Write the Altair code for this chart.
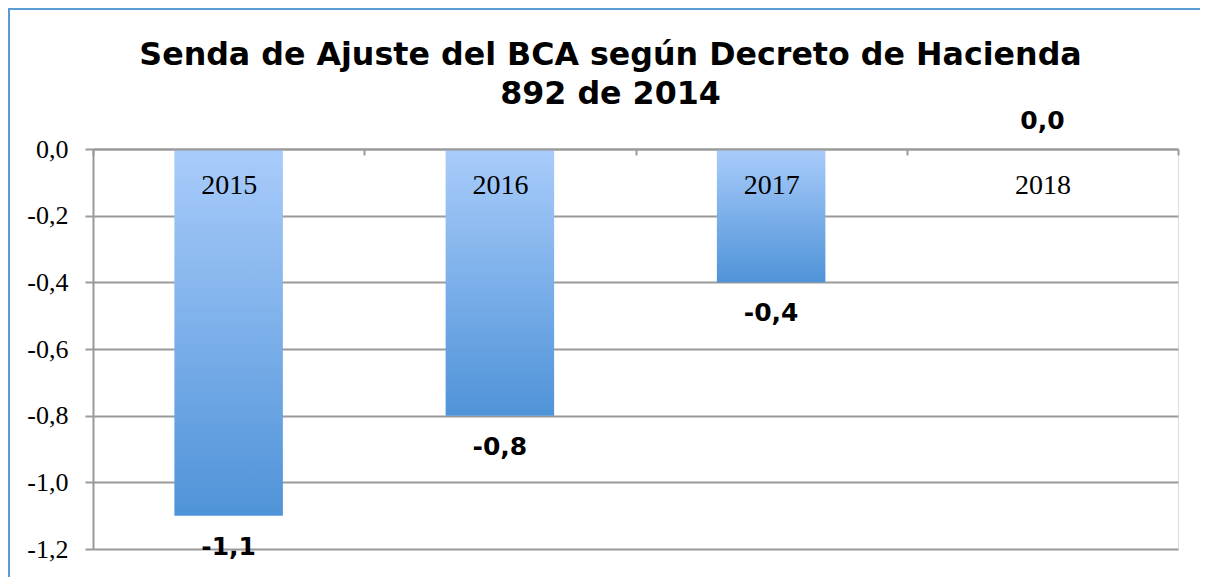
import altair as alt
import pandas as pd

years = ["2015", "2016", "2017", "2018"]
values = [-1.1, -0.8, -0.4, 0.0]
y_ticks = [0.0, -0.2, -0.4, -0.6, -0.8, -1.0, -1.2]
title_lines = ["Senda de Ajuste del BCA según Decreto de Hacienda", "892 de 2014"]

df = pd.DataFrame({"year": years, "value": values})

W, H = 1085, 400
PL, PT, PR, PB = 85, 141, 22, 28
GRID = "#9a9a9a"
BORDER = "#5b9bd5"

x_enc = alt.X(
    "year:N",
    sort=years,
    scale=alt.Scale(paddingInner=0, paddingOuter=0),
    axis=alt.Axis(
        orient="bottom",
        offset=-H,
        title=None,
        tickBand="extent",
        tickSize=6,
        tickColor=GRID,
        tickWidth=2,
        domainColor=GRID,
        domainWidth=2,
        labelFont="Liberation Serif",
        labelFontSize=28,
        labelColor="black",
        labelPadding=16,
        labelAngle=0,
        zindex=1,
    ),
)

y_enc = alt.Y(
    "value:Q",
    scale=alt.Scale(domain=[-1.2, 0], nice=False),
    axis=alt.Axis(
        values=y_ticks,
        format=".1f",
        title=None,
        grid=True,
        gridColor=GRID,
        gridWidth=2,
        domainColor=GRID,
        domainWidth=2,
        tickColor=GRID,
        tickWidth=2,
        tickSize=8,
        labelFont="Liberation Serif",
        labelFontSize=26,
        labelColor="black",
        labelPadding=17,
    ),
)

gradient = alt.Gradient(
    gradient="linear",
    stops=[
        alt.GradientStop(color="#a9ccfb", offset=0),
        alt.GradientStop(color="#4f93d8", offset=1),
    ],
    x1=0, x2=0, y1=0, y2=1,
)

base = alt.Chart(df)

bars = base.mark_bar(
    color=gradient, width=alt.RelativeBandSize(0.4)
).encode(x=x_enc, y=y_enc, y2=alt.datum(0))

neg_labels = base.transform_filter("datum.value < 0").mark_text(
    font="DejaVu Sans", fontWeight="bold", fontSize=25, color="black",
    baseline="middle", dy=31,
).encode(x=alt.X("year:N", sort=years), y="value:Q", text=alt.Text("value:Q", format=".1f"))

zero_labels = base.transform_filter("datum.value >= 0").mark_text(
    font="DejaVu Sans", fontWeight="bold", fontSize=25, color="black",
    baseline="middle", dy=-28,
).encode(x=alt.X("year:N", sort=years), y="value:Q", text=alt.Text("value:Q", format=".1f"))

one = pd.DataFrame({"a": [0]})
top_border = alt.Chart(one).mark_rule(color=BORDER, strokeWidth=2).encode(
    x=alt.value(-PL), x2=alt.value(W + PR), y=alt.value(-PT + 1)
)
left_border = alt.Chart(one).mark_rule(color=BORDER, strokeWidth=2).encode(
    x=alt.value(-PL + 1), y=alt.value(-PT), y2=alt.value(H + PB)
)

chart = alt.layer(bars, neg_labels, zero_labels, top_border, left_border).properties(
    width=W,
    height=H,
    padding={"left": PL, "top": PT, "right": PR, "bottom": PB},
    autosize=alt.AutoSizeParams(type="none"),
    title=alt.TitleParams(
        text=title_lines,
        font="DejaVu Sans",
        fontSize=31.7,
        fontWeight="bold",
        color="black",
        anchor="middle",
        frame="group",
        dx=-25,
        offset=-104,
        lineHeight=39,
    ),
).configure_view(stroke=None).configure(
    locale=alt.Locale(number=alt.NumberLocale(
        decimal=",", thousands=".", grouping=[3], currency=["", " €"], minus="-"
    ))
)

chart.save("out.html", embed_options={"renderer": "svg", "actions": False})
